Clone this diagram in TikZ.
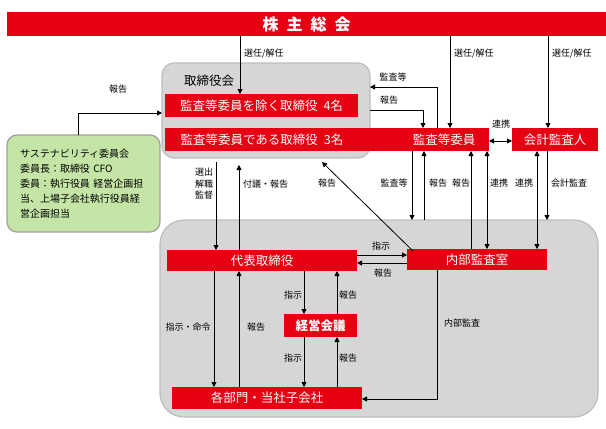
\documentclass[tikz,border=0pt]{standalone}
\usepackage{fontspec}
\setmainfont{Noto Sans CJK JP}
\usetikzlibrary{arrows.meta}
\definecolor{kred}{HTML}{E60012}
\definecolor{kgray}{HTML}{D6D6D6}
\definecolor{kgrayb}{HTML}{BDBDBD}
\definecolor{kgreen}{HTML}{C4E5A6}
\definecolor{kgreenb}{HTML}{A0A0A0}
\begin{document}
\begin{tikzpicture}[x=1pt,y=-1pt,
  redbox/.style={fill=kred,text=white,inner sep=0pt,outer sep=0pt,anchor=north west,font=\fontsize{12.5}{14}\selectfont},
  graybox/.style={draw=kgrayb,fill=kgray,line width=1.2pt,inner sep=0pt,outer sep=0pt,anchor=north west},
  lbl/.style={font=\fontsize{9}{11}\selectfont,inner sep=0pt},
  arr/.style={-{Triangle[length=5pt,width=5pt]},line width=0.8pt},
  dbl/.style={{Triangle[length=5pt,width=5pt]}-{Triangle[length=5pt,width=5pt]},line width=0.8pt}]
\useasboundingbox (0,0) rectangle (606,429);
% containers
\node[graybox,rounded corners=12pt,minimum width=208pt,minimum height=95pt] (board) at (162,63) {};
\node[graybox,rounded corners=24pt,minimum width=438pt,minimum height=197pt] (big) at (160,220) {};
\node[draw=kgreenb,fill=kgreen,line width=1.2pt,rounded corners=10pt,anchor=north west,outer sep=0pt,
      minimum width=153pt,minimum height=97pt,text width=127pt,inner xsep=13pt,align=left,
      font=\fontsize{10}{15}\selectfont] (sus) at (7,135)
  {サステナビリティ委員会\\委員長：取締役 CFO\\委員：執行役員 経営企画担\\当、上場子会社執行役員経\\営企画担当};
\node[font=\fontsize{12.5}{14}\selectfont,inner sep=0pt] (boardlbl) at (209,81) {取締役会};
% red boxes
\node[redbox,minimum width=599pt,minimum height=24pt,font=\fontsize{16}{18}\selectfont\bfseries] (sh) at (7,12)
  {株\hspace{8pt}主\hspace{8pt}総\hspace{8pt}会};
\node[redbox,minimum width=193pt,minimum height=23pt] (b1) at (165,94) {監査等委員を除く取締役\hspace{6pt}4名};
\node[redbox,minimum width=194pt,minimum height=23pt] (b2) at (165,128) {監査等委員である取締役\hspace{6pt}3名};
\node[redbox,minimum width=90pt,minimum height=23pt] (kansa) at (399,128) {監査等委員};
\fill[kred] (b2.north east) rectangle (kansa.south west);
\node[redbox,minimum width=86pt,minimum height=23pt] (kaikei) at (512,128) {会計監査人};
\node[redbox,minimum width=190pt,minimum height=21pt] (daihyo) at (167,250) {代表取締役};
\node[redbox,minimum width=140pt,minimum height=21pt] (naibu) at (407,249) {内部監査室};
\node[redbox,minimum width=73pt,minimum height=23pt,font=\fontsize{12.5}{14}\selectfont\bfseries] (keiei) at (284,314) {経営会議};
\node[redbox,minimum width=190pt,minimum height=22pt] (kakubu) at (172,387) {各部門・当社子会社};
% shareholders arrows
\draw[arr] (sh.south -| 240,0) -- (b1.north -| 240,0);
\node[lbl,anchor=west] (l1) at (244,54) {選任/解任};
\draw[arr] (sh.south -| 450,0) -- (kansa.north -| 450,0);
\node[lbl,anchor=west] (l2) at (454,54) {選任/解任};
\draw[arr] (sh.south -| 548,0) -- (kaikei.north -| 548,0);
\node[lbl,anchor=west] (l3) at (552,54) {選任/解任};
% board <-> kansa
\draw[arr] (kansa.north -| 437,0) |- (board.east |- 0,87);
\node[lbl] (l4) at (393,77) {監査等};
\draw[arr] (board.east |- 0,110) -| (kansa.north -| 423,0);
\node[lbl] (l5) at (389,100) {報告};
% sustainability
\draw[arr] (sus.north -| 78,0) |- (board.west |- 0,113);
\node[lbl] (l6) at (118,89) {報告};
% kansa <-> kaikei
\draw[dbl] (kansa.east |- 0,141) -- (kaikei.west |- 0,141);
\node[lbl] (l7) at (501,124) {連携};
% board <-> daihyo
\draw[arr,shorten <=4pt] (board.south -| 216,0) -- (daihyo.north -| 216,0);
\node[lbl,align=center,font=\fontsize{9}{11.5}\selectfont] (l8) at (204,184) {選出\\解職\\監督};
\draw[arr,shorten >=7pt] (daihyo.north -| 239,0) -- (board.south -| 239,0);
\node[lbl,anchor=west] (l9) at (243,184) {付議・報告};
% diagonal report
\coordinate (diagend) at (322,162);
\draw[arr] ([xshift=6pt,yshift=-2pt]naibu.north west) -- (diagend);
\node[lbl] (l10) at (327,183) {報告};
% kansa <-> big / naibu
\draw[arr] (kansa.south -| 412,0) -- (big.north -| 412,0);
\node[lbl] (l11) at (394,183) {監査等};
\draw[arr] (big.north -| 424,0) -- (kansa.south -| 424,0);
\node[lbl] (l12) at (438,183) {報告};
\draw[arr] (naibu.north -| 471,0) -- (kansa.south -| 471,0);
\node[lbl] (l13) at (461,183) {報告};
\draw[dbl] (kansa.south -| 487,0) -- (naibu.north -| 487,0);
\node[lbl] (l14) at (499,183) {連携};
\draw[dbl] (kaikei.south -| 537,0) -- (naibu.north -| 537,0);
\node[lbl] (l15) at (524,183) {連携};
\draw[arr] (kaikei.south -| 547,0) -- (big.north -| 547,0);
\node[lbl,anchor=west] (l16) at (551,183) {会計監査};
% daihyo <-> naibu
\draw[arr] (daihyo.east |- 0,255) -- (naibu.west |- 0,255);
\node[lbl] (l17) at (381,246) {指示};
\draw[arr] (naibu.west |- 0,263) -- (daihyo.east |- 0,263);
\node[lbl] (l18) at (383,273) {報告};
% daihyo <-> keiei <-> kakubu
\draw[arr] (daihyo.south -| 304,0) -- (keiei.north -| 304,0);
\node[lbl] (l19) at (293,295) {指示};
\draw[arr] (keiei.north -| 337,0) -- (daihyo.south -| 337,0);
\node[lbl] (l20) at (348,295) {報告};
\draw[arr] (keiei.south -| 304,0) -- (kakubu.north -| 304,0);
\node[lbl] (l21) at (293,358) {指示};
\draw[arr] (kakubu.north -| 337,0) -- (keiei.south -| 337,0);
\node[lbl] (l22) at (348,358) {報告};
% daihyo <-> kakubu
\draw[arr] (daihyo.south -| 214,0) -- (kakubu.north -| 214,0);
\node[lbl] (l23) at (188,327) {指示・命令};
\draw[arr] (kakubu.north -| 239,0) -- (daihyo.south -| 239,0);
\node[lbl] (l24) at (256,327) {報告};
% internal audit
\draw[arr] (naibu.south -| 437,0) |- (kakubu.east |- 0,399);
\node[lbl] (l25) at (462,323) {内部監査};
\end{tikzpicture}
\end{document}
